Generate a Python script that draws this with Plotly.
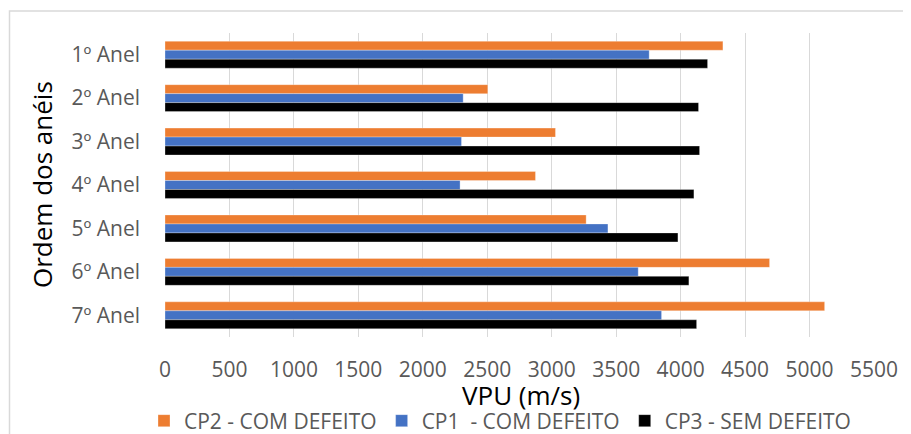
import plotly.graph_objects as go

categories = ["1º Anel", "2º Anel", "3º Anel", "4º Anel", "5º Anel", "6º Anel", "7º Anel"]
cp2_com_defeito = [4328, 2504, 3029, 2874, 3267, 4690, 5117]
cp1_com_defeito = [3756, 2313, 2300, 2289, 3436, 3671, 3852]
cp3_sem_defeito = [4209, 4139, 4147, 4103, 3979, 4064, 4124]
x_ticks = [0, 500, 1000, 1500, 2000, 2500, 3000, 3500, 4000, 4500, 5000, 5500]

series = [
    ("CP2 - COM DEFEITO", cp2_com_defeito, "#ED7D31"),
    ("CP1  - COM DEFEITO", cp1_com_defeito, "#4472C4"),
    ("CP3 - SEM DEFEITO", cp3_sem_defeito, "#000000"),
]

FONT = "Open Sans"
fig = go.Figure()
for name, vals, color in series:
    fig.add_trace(go.Bar(
        y=categories, x=vals, name=name, orientation="h",
        marker=dict(color=color, line=dict(color="rgba(255,255,255,0.6)", width=0.5)),
    ))

# the page body has an 8px margin, so figure coordinates are offset by 8px
OFF = 8
W, H = 911 - OFF, 434 - OFF
L, T = 165 - OFF, 33 - OFF
R = 911 - 874
B = 434 - 337
pw = W - L - R
ph = H - T - B


def px_x(p):  # page x pixel -> paper
    return (p - OFF - L) / pw


def px_y(p):  # page y pixel -> paper
    return 1 - (p - OFF - T) / ph


fig.update_layout(
    width=W, height=H,
    margin=dict(l=L, r=R, t=T, b=B, autoexpand=False),
    paper_bgcolor="white", plot_bgcolor="white",
    barmode="group", bargap=0.38, bargroupgap=0,
    font=dict(family=FONT, color="#595959", size=21),
    showlegend=True,
    legend=dict(orientation="h", x=px_x(144), xanchor="left", y=px_y(421), yanchor="middle",
                font=dict(size=21, color="#595959", family=FONT),
                itemwidth=30, traceorder="normal"),
    xaxis=dict(range=[0, 5500], tickvals=x_ticks, showgrid=True, gridcolor="#D9D9D9",
               gridwidth=1, zeroline=False, showline=False, automargin=False,
               tickfont=dict(size=21, color="#595959", family=FONT),
               ticklabelstandoff=18),
    yaxis=dict(autorange="reversed", showgrid=False, zeroline=False, showline=False, automargin=False,
               tickfont=dict(size=21, color="#595959", family=FONT),
               ticklabelstandoff=24),
    annotations=[
        dict(text="VPU (m/s)", xref="paper", yref="paper", x=px_x(521), y=px_y(395),
             xanchor="center", yanchor="middle", showarrow=False,
             font=dict(size=26, color="#000000", family=FONT)),
        dict(text="Ordem dos anéis", xref="paper", yref="paper", x=px_x(42), y=px_y(185),
             xanchor="center", yanchor="middle", showarrow=False, textangle=-90,
             font=dict(size=26, color="#000000", family=FONT)),
    ],
)

# light chart-area border (cropped on right and bottom)
fig.add_shape(type="rect", xref="paper", yref="paper",
              x0=px_x(9.5), x1=px_x(925), y0=px_y(450), y1=px_y(11),
              line=dict(color="#D9D9D9", width=1.5), fillcolor="rgba(0,0,0,0)", layer="above")

fig.write_html("out.html")
